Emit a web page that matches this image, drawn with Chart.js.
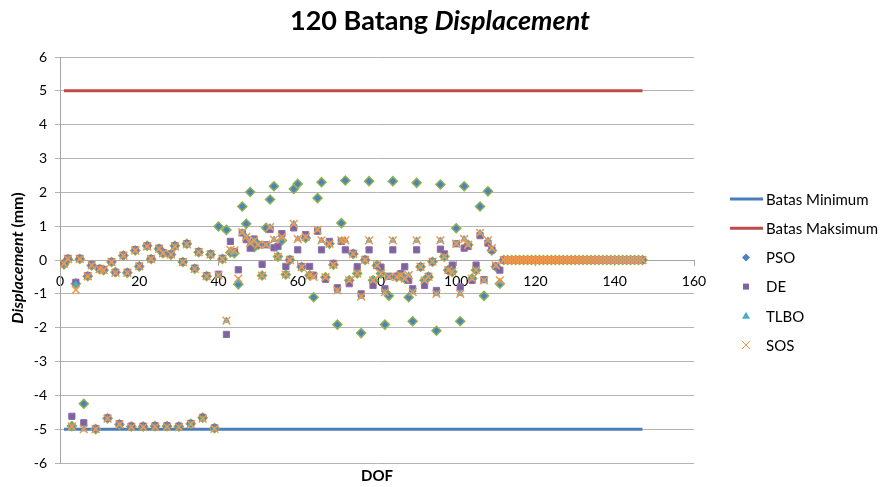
<!DOCTYPE html>
<html>
<head>
<meta charset="utf-8">
<title>120 Batang Displacement</title>
<script src="https://cdn.jsdelivr.net/npm/chart.js@4.4.0/dist/chart.umd.min.js"></script>
<style>
  html, body { margin: 0; padding: 0; background: #fff; }
</style>
</head>
<body>
<canvas id="chartDisp" width="880" height="487"></canvas>
<script>
// batas (limits), drawn as lines from the first to the last DOF
var boundX = [1, 147];
var batasMin = [-5, -5];
var batasMaks = [5, 5];

// displacement per DOF (index 0 = DOF 1)
var pso = [
  -0.13, 0.02, -4.91, -0.70, 0.03, -4.25, -0.48, -0.16, -5.00, -0.27,
  -0.30, -4.68, -0.06, -0.36, -4.86, 0.13, -0.38, -4.92, 0.28, -0.19,
  -4.92, 0.42, 0.03, -4.91, 0.33, 0.20, -4.91, 0.16, 0.42, -4.92,
  -0.06, 0.48, -4.84, -0.26, 0.23, -4.66, -0.48, 0.16, -4.97, 0.99,
  0.03, 0.89, 0.22, 0.20, -0.72, 1.58, 1.07, 2.01, 0.38, 0.45,
  -0.46, 0.95, 1.79, 2.18, 0.10, 0.58, -0.43, 0.00, 2.10, 2.25,
  -0.21, 0.65, -0.45, -1.10, 1.83, 2.30, -0.51, 0.48, -0.14, -1.91,
  1.09, 2.35, -0.60, 0.18, -0.40, -2.16, 0.00, 2.33, -0.60, -0.16,
  -0.40, -1.91, -1.06, 2.33, -0.50, -0.45, -0.55, -1.10, -1.81, 2.28,
  -0.20, -0.60, -0.50, -0.05, -2.09, 2.23, 0.10, -0.30, -0.35, 0.94,
  -1.81, 2.18, 0.45, -0.55, -0.30, 1.58, -1.06, 2.03, 0.28, -0.20,
  -0.70, 0, 0, 0, 0, 0, 0, 0, 0, 0,
  0, 0, 0, 0, 0, 0, 0, 0, 0, 0,
  0, 0, 0, 0, 0, 0, 0, 0, 0, 0,
  0, 0, 0, 0, 0, 0, 0
];
var de = [
  -0.10, 0.05, -4.62, -0.66, 0.05, -4.81, -0.46, -0.14, -4.98, -0.25,
  -0.28, -4.67, -0.05, -0.36, -4.84, 0.14, -0.36, -4.91, 0.30, -0.18,
  -4.91, 0.42, 0.04, -4.90, 0.35, 0.22, -4.90, 0.18, 0.42, -4.91,
  -0.05, 0.48, -4.83, -0.24, 0.25, -4.65, -0.46, 0.18, -4.96, -0.42,
  0.05, -2.20, 0.55, 0.25, -0.29, 0.80, 0.60, 0.35, 0.62, 0.45,
  -0.13, 0.45, 0.90, 0.36, 0.40, 0.78, -0.19, 0.02, 0.95, 0.30,
  -0.19, 0.75, -0.19, -0.45, 0.85, 0.30, -0.57, 0.55, -0.10, -0.82,
  0.55, 0.30, -0.70, 0.20, -0.20, -1.00, 0.02, 0.30, -0.75, -0.16,
  -0.21, -0.85, -0.48, 0.30, -0.48, -0.40, -0.20, -0.60, -0.85, 0.30,
  -0.20, -0.75, -0.48, -0.05, -0.90, 0.32, 0.18, -0.30, -0.15, 0.48,
  -0.80, 0.35, 0.40, -0.60, -0.15, 0.72, -0.58, 0.50, 0.30, -0.18,
  -0.30, 0, 0, 0, 0, 0, 0, 0, 0, 0,
  0, 0, 0, 0, 0, 0, 0, 0, 0, 0,
  0, 0, 0, 0, 0, 0, 0, 0, 0, 0,
  0, 0, 0, 0, 0, 0, 0
];
var tlbo = [
  -0.12, 0.03, -4.92, -0.72, 0.03, -5.00, -0.48, -0.16, -5.00, -0.27,
  -0.30, -4.69, -0.06, -0.38, -4.86, 0.13, -0.38, -4.94, 0.28, -0.19,
  -4.94, 0.40, 0.03, -4.93, 0.33, 0.20, -4.93, 0.16, 0.40, -4.94,
  -0.06, 0.46, -4.85, -0.26, 0.23, -4.69, -0.48, 0.16, -4.99, -0.45,
  0.03, -1.79, 0.28, 0.22, -0.62, 0.82, 0.68, 0.50, 0.58, 0.45,
  -0.46, 0.45, 0.97, 0.60, 0.10, 0.62, -0.43, 0.00, 1.07, 0.62,
  -0.21, 0.68, -0.45, -0.50, 0.89, 0.58, -0.51, 0.48, -0.14, -0.90,
  0.58, 0.58, -0.60, 0.18, -0.40, -1.08, 0.00, 0.58, -0.60, -0.16,
  -0.40, -0.95, -0.50, 0.58, -0.50, -0.45, -0.55, -0.45, -0.95, 0.58,
  -0.20, -0.60, -0.50, -0.05, -1.00, 0.58, 0.10, -0.30, -0.35, 0.48,
  -1.00, 0.62, 0.45, -0.55, -0.30, 0.80, -0.60, 0.58, 0.32, -0.18,
  -0.65, 0, 0, 0, 0, 0, 0, 0, 0, 0,
  0, 0, 0, 0, 0, 0, 0, 0, 0, 0,
  0, 0, 0, 0, 0, 0, 0, 0, 0, 0,
  0, 0, 0, 0, 0, 0, 0
];
var sos = [
  -0.11, 0.03, -4.92, -0.88, 0.03, -5.00, -0.48, -0.16, -5.00, -0.27,
  -0.30, -4.69, -0.06, -0.38, -4.86, 0.13, -0.38, -4.94, 0.28, -0.19,
  -4.94, 0.40, 0.03, -4.93, 0.33, 0.20, -4.93, 0.16, 0.40, -4.94,
  -0.06, 0.46, -4.85, -0.26, 0.23, -4.69, -0.48, 0.16, -4.99, -0.45,
  0.03, -1.79, 0.30, 0.28, -0.55, 0.82, 0.68, 0.50, 0.58, 0.45,
  -0.46, 0.45, 0.97, 0.60, 0.10, 0.68, -0.43, 0.00, 1.07, 0.62,
  -0.21, 0.68, -0.45, -0.50, 0.89, 0.58, -0.51, 0.48, -0.14, -0.90,
  0.58, 0.58, -0.60, 0.18, -0.40, -1.08, 0.00, 0.58, -0.60, -0.16,
  -0.40, -0.95, -0.50, 0.58, -0.50, -0.45, -0.55, -0.45, -0.95, 0.58,
  -0.20, -0.60, -0.50, -0.05, -1.00, 0.58, 0.10, -0.30, -0.35, 0.48,
  -1.00, 0.62, 0.45, -0.55, -0.30, 0.80, -0.60, 0.58, 0.35, -0.16,
  -0.60, 0, 0, 0, 0, 0, 0, 0, 0, 0,
  0, 0, 0, 0, 0, 0, 0, 0, 0, 0,
  0, 0, 0, 0, 0, 0, 0, 0, 0, 0,
  0, 0, 0, 0, 0, 0, 0
];

var xTickStep = 20;
var yTickStep = 1;

function toPoints(values) {
  return values.map(function (v, i) { return { x: i + 1, y: v }; });
}
function toLine(ys) {
  return ys.map(function (v, i) { return { x: boundX[i], y: v }; });
}

Chart.defaults.font.family = 'Lato, "Open Sans", sans-serif';
Chart.defaults.font.size = 14;
Chart.defaults.color = '#000';

// titles with mixed italic parts, plus an Excel style legend on the right
var decor = {
  id: 'decor',
  afterDraw: function (chart) {
    var ctx = chart.ctx;
    ctx.save();
    ctx.fillStyle = '#000';
    ctx.textBaseline = 'middle';

    // main title
    var a = '120 Batang ', b = 'Displacement';
    ctx.font = 'bold 27px Lato';
    var wa = ctx.measureText(a).width;
    ctx.font = 'italic bold 27px Lato';
    var wb = ctx.measureText(b).width;
    var tx = 440 - (wa + wb) / 2;
    ctx.textAlign = 'left';
    ctx.font = 'bold 27px Lato';
    ctx.fillText(a, tx, 21);
    ctx.font = 'italic bold 27px Lato';
    ctx.fillText(b, tx + wa, 21);

    // y axis title
    var c = 'Displacement', d = ' (mm)';
    ctx.save();
    ctx.translate(18, 258);
    ctx.rotate(-Math.PI / 2);
    ctx.font = 'italic bold 16px Lato';
    var wc = ctx.measureText(c).width;
    ctx.font = 'bold 16px Lato';
    var wd = ctx.measureText(d).width;
    ctx.font = 'italic bold 16px Lato';
    ctx.fillText(c, -(wc + wd) / 2, 0);
    ctx.font = 'bold 16px Lato';
    ctx.fillText(d, -(wc + wd) / 2 + wc, 0);
    ctx.restore();

    // x axis title
    ctx.textAlign = 'center';
    ctx.font = 'bold 15px Lato';
    var area = chart.chartArea;
    ctx.fillText('DOF', (area.left + area.right) / 2, 476);

    // legend
    ctx.textAlign = 'left';
    ctx.font = '15px Lato';
    chart.data.datasets.forEach(function (ds, i) {
      var y = 199 + i * 29.2;
      var cx = 746;
      if (ds.showLine) {
        ctx.strokeStyle = ds.borderColor;
        ctx.lineWidth = 3;
        ctx.beginPath();
        ctx.moveTo(730, y);
        ctx.lineTo(763, y);
        ctx.stroke();
      } else {
        ctx.fillStyle = ds.backgroundColor;
        ctx.strokeStyle = ds.borderColor;
        ctx.lineWidth = 1;
        ctx.beginPath();
        if (ds.pointStyle === 'rectRot') {
          ctx.moveTo(cx - 4, y); ctx.lineTo(cx, y - 4);
          ctx.lineTo(cx + 4, y); ctx.lineTo(cx, y + 4);
          ctx.closePath(); ctx.fill();
        } else if (ds.pointStyle === 'rect') {
          ctx.rect(cx - 3, y - 3, 6, 6); ctx.fill();
        } else if (ds.pointStyle === 'triangle') {
          ctx.moveTo(cx, y - 4); ctx.lineTo(cx + 4, y + 3);
          ctx.lineTo(cx - 4, y + 3); ctx.closePath(); ctx.fill();
        } else {
          ctx.moveTo(cx - 4, y - 4); ctx.lineTo(cx + 4, y + 4);
          ctx.moveTo(cx + 4, y - 4); ctx.lineTo(cx - 4, y + 4);
          ctx.stroke();
        }
      }
      ctx.fillStyle = '#000';
      ctx.fillText(ds.label, 766, y + 1);
    });
    ctx.restore();
  }
};

var ctx = document.getElementById('chartDisp').getContext('2d');
var myChart = new Chart(ctx, {
  type: 'scatter',
  data: {
    datasets: [{
      label: 'Batas Minimum',
      data: toLine(batasMin),
      showLine: true,
      borderColor: '#4a7ebb',
      backgroundColor: '#4a7ebb',
      borderWidth: 3,
      pointRadius: 0,
      order: 6
    }, {
      label: 'Batas Maksimum',
      data: toLine(batasMaks),
      showLine: true,
      borderColor: '#be4b48',
      backgroundColor: '#be4b48',
      borderWidth: 3,
      pointRadius: 0,
      order: 5
    }, {
      label: 'PSO',
      data: toPoints(pso),
      pointStyle: 'rectRot',
      pointRadius: 4.5,
      backgroundColor: '#4f81bd',
      borderColor: '#8cb34f',
      borderWidth: 1.5,
      order: 4
    }, {
      label: 'DE',
      data: toPoints(de),
      pointStyle: 'rect',
      pointRadius: 4.4,
      backgroundColor: '#7f63a1',
      borderColor: '#8a70ab',
      borderWidth: 1,
      order: 3
    }, {
      label: 'TLBO',
      data: toPoints(tlbo),
      pointStyle: 'triangle',
      pointRadius: 3.5,
      backgroundColor: '#4bacc6',
      borderColor: '#4bacc6',
      borderWidth: 1,
      order: 2
    }, {
      label: 'SOS',
      data: toPoints(sos),
      pointStyle: 'crossRot',
      pointRadius: 5.5,
      backgroundColor: '#f79646',
      borderColor: '#f79646',
      borderWidth: 1.5,
      order: 1
    }]
  },
  options: {
    responsive: false,
    animation: false,
    events: [],
    layout: { padding: { left: 0, right: 186, top: 57, bottom: 24 } },
    plugins: {
      legend: { display: false },
      tooltip: { enabled: false }
    },
    scales: {
      x: {
        type: 'linear',
        position: { y: 0 },
        min: 0,
        max: 160,
        ticks: { stepSize: xTickStep, padding: 8, color: '#000' },
        grid: { drawOnChartArea: false, drawTicks: true, tickLength: 5, color: '#a6a6a6' },
        border: { display: true, color: '#a6a6a6' }
      },
      y: {
        type: 'linear',
        min: -6,
        max: 6,
        ticks: { stepSize: yTickStep, padding: 8, color: '#000' },
        grid: { color: '#b3b3b3', tickLength: 5 },
        border: { display: true, color: '#a6a6a6' },
        afterFit: function (scale) { scale.width = 60; }
      }
    }
  },
  plugins: [decor]
});
</script>
</body>
</html>
